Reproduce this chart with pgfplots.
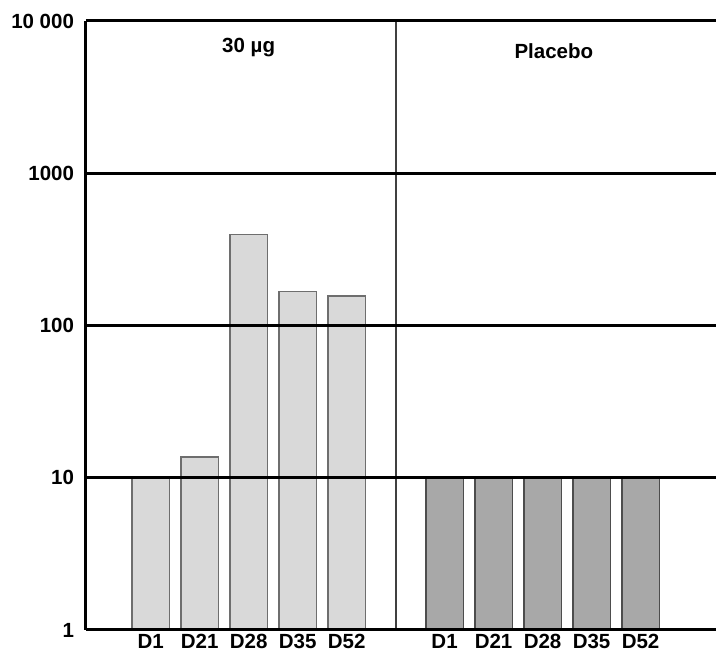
\documentclass[border=0pt]{standalone}
\usepackage{pgfplots}
\pgfplotsset{compat=1.18}
\usepackage{fontspec}
\setmainfont{Liberation Sans}
\definecolor{lightbar}{HTML}{D9D9D9}
\definecolor{darkbar}{HTML}{A8A8A8}
\definecolor{edge}{HTML}{6E6E6E}
\begin{document}
\fontsize{20.5}{24}\selectfont
\begin{tikzpicture}
\useasboundingbox (-86pt,-25pt) rectangle (630pt,630pt);
\begin{axis}[
  at={(0,0)}, anchor=south west,
  scale only axis, width=630pt, height=609pt,
  xmin=-0.32, xmax=12.54,
  ymode=log, ymin=1, ymax=10000,
  axis lines*=left,
  axis line style={line width=3pt, black},
  ytick={1,10,100,1000,10000},
  yticklabels={1,10,100,1000,10\ 000},
  minor ytick={}, minor tick length=0pt,
  ymajorgrids, grid style={black, line width=3pt},
  major tick length=0pt,
  xtick={1,2,3,4,5,7,8,9,10,11},
  xticklabels={D1,D21,D28,D35,D52,D1,D21,D28,D35,D52},
  tick label style={font=\bfseries},
  yticklabel style={xshift=-5pt},
  xticklabel style={yshift=3pt},
  ybar, bar width=0.76, bar shift=0pt,
  axis on top,
]
\addplot[fill=lightbar, draw=edge, line width=1.2pt] coordinates {(1,10) (2,13.7) (3,394) (4,168) (5,156)};
\addplot[fill=darkbar, draw=edge!70!black, line width=1.2pt] coordinates {(7,10) (8,10) (9,10) (10,10) (11,10)};
\draw[line width=2pt, black!75] (axis cs:6,1) -- (axis cs:6,10000);
\node[font=\bfseries] at (axis cs:3,6650) {30 µg};
\node[font=\bfseries] at (axis cs:9.23,6300) {Placebo};
\end{axis}
\end{tikzpicture}
\end{document}
